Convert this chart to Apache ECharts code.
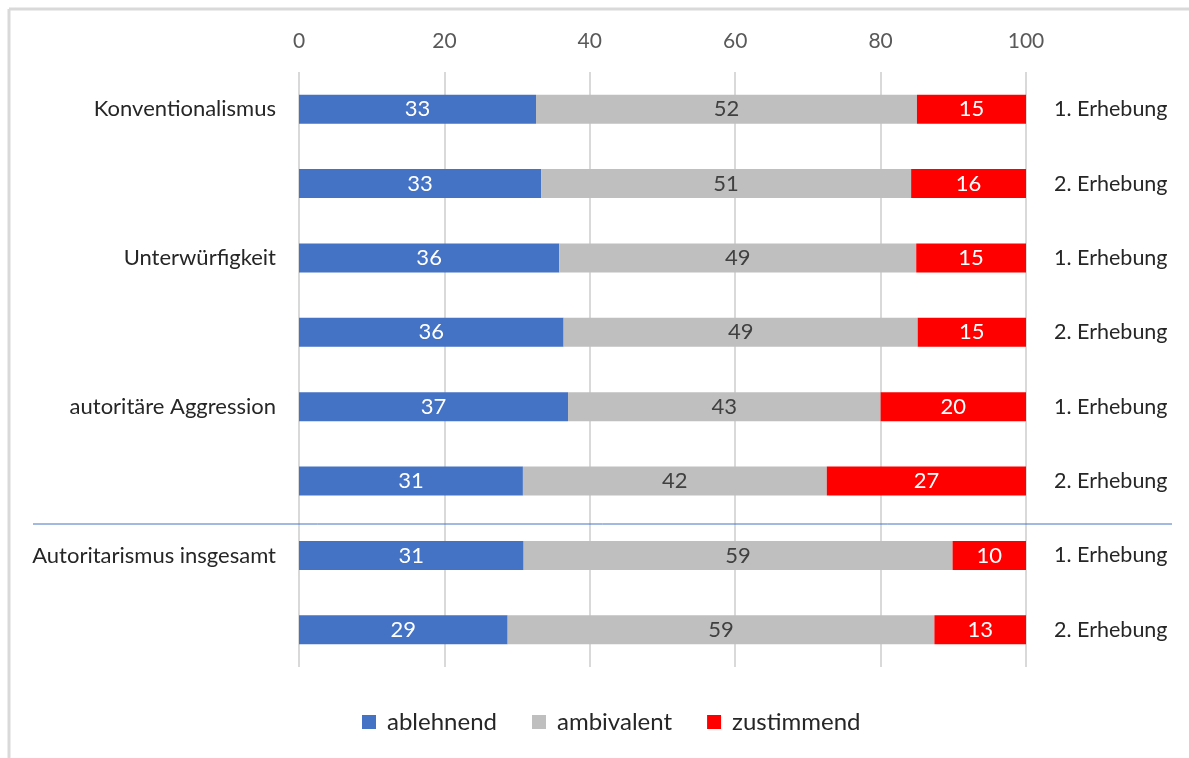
<!DOCTYPE html>
<html>
<head>
<meta charset="utf-8">
<script src="https://cdn.jsdelivr.net/npm/echarts@6/dist/echarts.min.js"></script>
<style>
  html, body { margin: 0; padding: 0; background: #ffffff; }
  #chart { width: 1189px; height: 758px; }
</style>
</head>
<body>
<div id="chart"></div>
<script>
// Dimension names shown on the left (one per pair of survey waves)
const dimensions = ['Konventionalismus', '', 'Unterwürfigkeit', '', 'autoritäre Aggression', '', 'Autoritarismus insgesamt', ''];
// Survey wave shown on the right of each bar
const waves = ['1. Erhebung', '2. Erhebung', '1. Erhebung', '2. Erhebung', '1. Erhebung', '2. Erhebung', '1. Erhebung', '2. Erhebung'];
// Shares in percent per row
const ablehnend  = [32.6, 33.3, 35.8, 36.4, 37.0, 30.8, 30.9, 28.7];
const ambivalent = [52.4, 50.9, 49.1, 48.7, 43.0, 41.8, 59.0, 58.7];
const zustimmend = [15.0, 15.8, 15.1, 14.9, 20.0, 27.4, 10.1, 12.6];
// Ticks of the value axis
const axisMin = 0, axisMax = 100, axisStep = 20;

const FONT = 'Lato, "Open Sans", sans-serif';

const chart = echarts.init(document.getElementById('chart'), null, { renderer: 'canvas' });

function barSeries(name, data, color, labelColor) {
  return {
    name: name,
    type: 'bar',
    stack: 'total',
    data: data,
    barWidth: 29,
    itemStyle: { color: color },
    label: {
      show: true,
      position: 'inside',
      color: labelColor,
      fontFamily: FONT,
      fontSize: 22,
      formatter: p => String(Math.round(p.value))
    },
    emphasis: { disabled: true }
  };
}

chart.setOption({
  animation: false,
  backgroundColor: '#ffffff',
  textStyle: { fontFamily: FONT },
  grid: { left: 299, right: 163, top: 72, bottom: 91, containLabel: false },
  xAxis: {
    type: 'value',
    position: 'top',
    min: axisMin,
    max: axisMax,
    interval: axisStep,
    axisLine: { show: false },
    axisTick: { show: false },
    axisLabel: { color: '#595959', fontSize: 21, margin: 20, fontFamily: FONT },
    splitLine: { show: true, lineStyle: { color: '#d9d9d9', width: 2 } }
  },
  yAxis: [
    {
      type: 'category',
      data: dimensions,
      inverse: true,
      axisLine: { show: false },
      axisTick: { show: false },
      axisLabel: { color: '#262626', fontSize: 22, margin: 23, fontFamily: FONT, interval: 0 }
    },
    {
      type: 'category',
      data: waves,
      inverse: true,
      position: 'right',
      axisLine: { show: false },
      axisTick: { show: false },
      axisLabel: { color: '#262626', fontSize: 21.5, margin: 28, fontFamily: FONT, interval: 0, align: 'left' }
    }
  ],
  legend: {
    bottom: 19,
    left: 357,
    icon: 'rect',
    itemWidth: 14,
    itemHeight: 14,
    itemGap: 35,
    textStyle: { color: '#262626', fontSize: 24, fontFamily: FONT, padding: [0, 0, 0, 6] },
    data: ['ablehnend', 'ambivalent', 'zustimmend']
  },
  series: [
    barSeries('ablehnend', ablehnend, '#4472C4', '#ffffff'),
    barSeries('ambivalent', ambivalent, '#BFBFBF', '#404040'),
    barSeries('zustimmend', zustimmend, '#FF0000', '#ffffff')
  ]
});

// Frame lines and the divider above the overall index
const yA = chart.convertToPixel({ yAxisIndex: 0 }, dimensions.length - 3);
const yB = chart.convertToPixel({ yAxisIndex: 0 }, dimensions.length - 2);
const dividerY = Math.round((yA + yB) / 2) + 6;
chart.setOption({
  graphic: [
    { type: 'line', shape: { x1: 9, y1: 9, x2: 1189, y2: 9 }, style: { stroke: '#d9d9d9', lineWidth: 3 }, silent: true },
    { type: 'line', shape: { x1: 9, y1: 9, x2: 9, y2: 758 }, style: { stroke: '#d9d9d9', lineWidth: 3 }, silent: true },
    { type: 'line', shape: { x1: 33, y1: dividerY, x2: 1172, y2: dividerY }, style: { stroke: '#4472C4', lineWidth: 1 }, silent: true }
  ]
});
</script>
</body>
</html>
